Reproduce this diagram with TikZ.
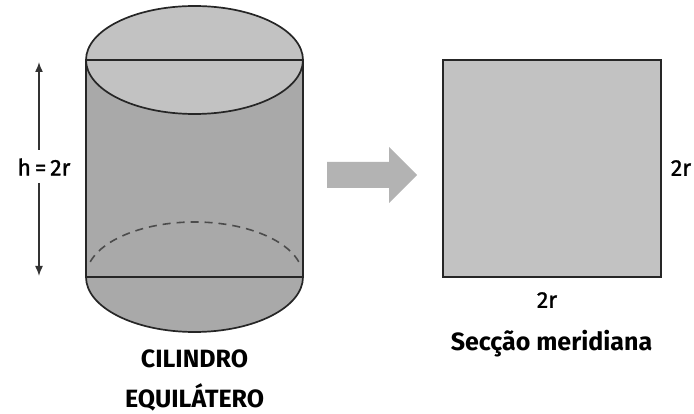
\documentclass[tikz,border=0pt]{standalone}
\usepackage{fontspec}
\setmainfont{Fira Sans}
\newfontfamily\medfont[FakeBold=1.2]{Fira Sans}
\usetikzlibrary{arrows.meta}
\definecolor{lightg}{HTML}{C2C2C2}
\definecolor{bodyg}{HTML}{A9A9A9}
\definecolor{arrowg}{HTML}{B3B3B3}
\tikzset{
  edge/.style={line width=1.7pt, black!85},
  lbl/.style={font=\medfont\fontsize{23}{26}\selectfont, inner sep=0pt},
  title/.style={font=\bfseries\fontsize{25}{28}\selectfont, inner sep=0pt, anchor=base},
}
\begin{document}
\begin{tikzpicture}[x=1pt,y=-1pt]
\useasboundingbox (0,0) rectangle (694,414);
% cylinder body
\coordinate (TL) at (86,60);
\coordinate (TR) at (303,60);
\coordinate (BL) at (86,277);
\coordinate (BR) at (303,277);
\fill[bodyg] (TL) -- (BL) arc[start angle=180, end angle=0, x radius=108.5, y radius=55] -- (TR) -- cycle;
\draw[edge] (BL) arc[start angle=180, end angle=0, x radius=108.5, y radius=55];
\draw[edge, fill=lightg] (194.5,60) ellipse[x radius=108.5, y radius=54];
\draw[edge] (TL) -- (TR);
\draw[edge] (BL) -- (BR);
\draw[edge] (TL) -- (BL);
\draw[edge] (TR) -- (BR);
\draw[line width=1.6pt, dash pattern=on 8pt off 6pt, black!70] (194.5,277) ++(196:108.5 and 55) arc[start angle=196, end angle=344, x radius=108.5, y radius=55];
% height arrow
\node[lbl] (h) at (44,167) {h\,=\,2r};
\coordinate (ha) at (39,62);
\coordinate (hb) at (39,150);
\coordinate (hc) at (39,183);
\coordinate (hd) at (39,276);
\draw[line width=1.5pt, black!80, -{Latex[length=10pt,width=8pt]}] (hb) -- (ha);
\draw[line width=1.5pt, black!80, -{Latex[length=10pt,width=8pt]}] (hc) -- (hd);
% captions
\node[title] (c1) at (194.5,367) {CILINDRO};
\node[title] (c2) at (194.5,407) {EQUILÁTERO};
% big arrow
\fill[arrowg] (327,162) -- (389,162) -- (389,147) -- (417,175) -- (389,203) -- (389,188) -- (327,188) -- cycle;
% square
\node[draw=black!85, line width=1.7pt, fill=lightg, minimum width=218pt, minimum height=217pt, inner sep=0pt] (sq) at (552,168.5) {};
\node[lbl] (r1) at (681,168) {2r};
\node[lbl] (r2) at (547,300) {2r};
\node[title] (sm) at (551.5,351) {Secção meridiana};
\end{tikzpicture}
\end{document}
